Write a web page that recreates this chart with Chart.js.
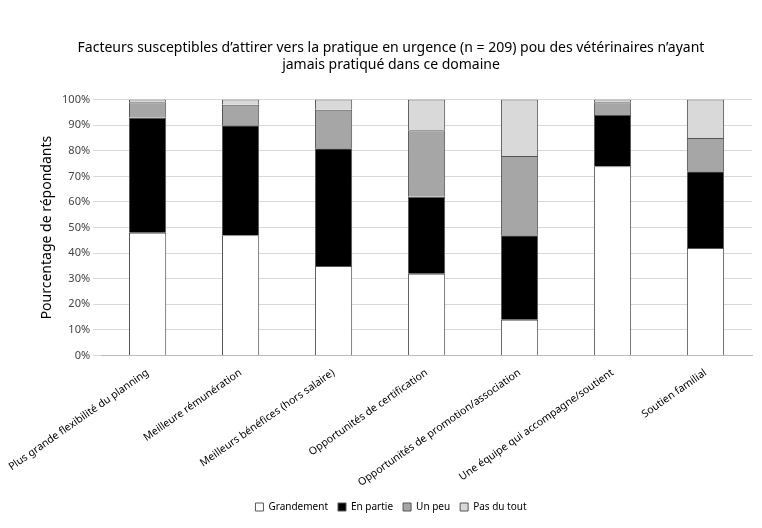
<!DOCTYPE html>
<html><head><meta charset="utf-8">
<script src="https://cdn.jsdelivr.net/npm/chart.js@4"></script>
<style>body{margin:0;background:#fff}#w{width:762px;height:528px}</style>
</head><body><div id="w"><canvas id="c"></canvas></div>
<script>
const categories = ['Plus grande flexibilité du planning','Meilleure rémunération','Meilleurs bénéfices (hors salaire)','Opportunités de certification','Opportunités de promotion/association','Une équipe qui accompagne/soutient','Soutien familial'];
const grandement = [48, 47, 35, 32, 14, 74, 42];
const enPartie = [45, 43, 46, 30, 33, 20, 30];
const unPeu = [6, 8, 15, 26, 31, 5, 13];
const pasDuTout = [1, 2, 4, 12, 22, 1, 15];

const mk = (label, data, bg) => ({label, data, backgroundColor: bg, borderColor: '#555', borderWidth: 1, barPercentage: 0.4, categoryPercentage: 1});
new Chart(document.getElementById('c'), {
  type: 'bar',
  data: { labels: categories, datasets: [
    mk('Grandement', grandement, '#ffffff'),
    mk('En partie', enPartie, '#000000'),
    mk('Un peu', unPeu, '#a6a6a6'),
    mk('Pas du tout', pasDuTout, '#d9d9d9')
  ]},
  options: {
    responsive: true, maintainAspectRatio: false, animation: false,
    layout: { padding: { left: 30, right: 10, top: 40, bottom: 6 } },
    plugins: {
      title: { display: true, text: ['Facteurs susceptibles d’attirer vers la pratique en urgence (n = 209) pou des vétérinaires n’ayant', 'jamais pratiqué dans ce domaine'], color: '#000', font: { family: 'Noto Sans', size: 14, weight: 'normal' }, padding: { bottom: 26 } },
      legend: { position: 'bottom', labels: { boxWidth: 8, boxHeight: 8, color: '#000', font: { family: 'Noto Sans', size: 10 }, padding: 10 } },
      tooltip: { enabled: false }
    },
    scales: {
      x: { stacked: true, grid: { display: false }, border: { color: '#bbb' },
        ticks: { color: '#000', font: { family: 'Noto Sans', size: 10.5 }, maxRotation: 35, minRotation: 35 } },
      y: { stacked: true, min: 0, max: 100, ticks: { stepSize: 10, color: '#444', font: { family: 'Noto Sans', size: 11 }, callback: v => v + '%' },
        grid: { color: '#d9d9d9' }, border: { display: false },
        title: { display: true, text: 'Pourcentage de répondants', color: '#000', font: { family: 'Noto Sans', size: 14 } } }
    }
  }
});
</script></body></html>
